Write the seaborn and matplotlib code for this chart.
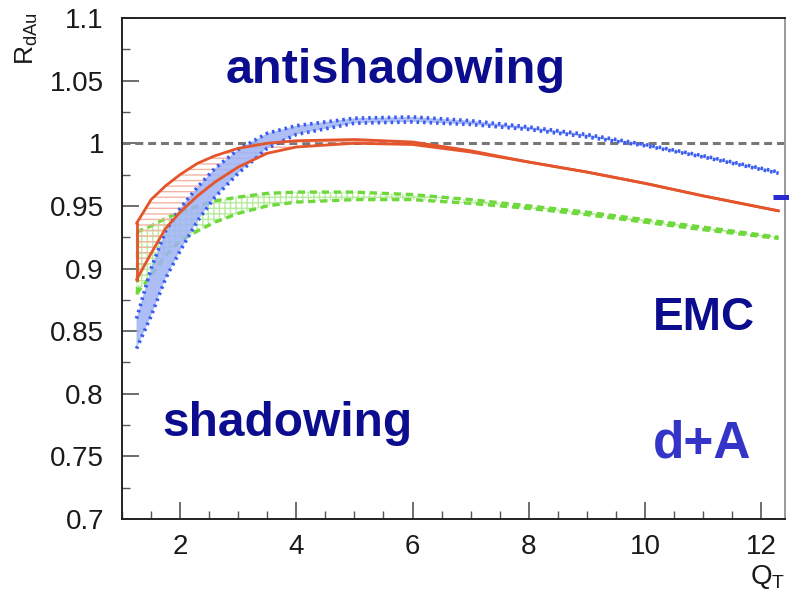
import numpy as np
import pandas as pd
import matplotlib
matplotlib.use("Agg")
import matplotlib.pyplot as plt
from matplotlib.lines import Line2D
from matplotlib.ticker import MultipleLocator
import seaborn as sns

# Q_T grid shared by the three nuclear-modification bands
q_t = [1.25, 1.5, 1.75, 2.0, 2.3, 2.6, 3.0, 3.5, 4.0, 5.0, 6.0, 7.0, 8.0, 9.0, 10.0, 11.0, 12.3]

# red band (solid edges, horizontal hatch)
red_hi = [0.936, 0.955, 0.966, 0.975, 0.984, 0.990, 0.996, 1.000, 1.002, 1.003, 1.001,
          0.994, 0.985, 0.977, 0.968, 0.958, 0.946]
red_lo = [0.891, 0.912, 0.932, 0.945, 0.958, 0.969, 0.981, 0.992, 0.997, 1.000, 0.999,
          0.993, 0.985, 0.977, 0.968, 0.958, 0.946]

# blue band (dotted edges, shaded)
blue_hi = [0.860, 0.900, 0.930, 0.948, 0.965, 0.980, 0.995, 1.008, 1.014, 1.020, 1.021,
           1.018, 1.013, 1.007, 0.999, 0.990, 0.977]
blue_lo = [0.836, 0.862, 0.892, 0.914, 0.938, 0.957, 0.976, 0.996, 1.007, 1.016, 1.017,
           1.015, 1.011, 1.005, 0.998, 0.989, 0.976]

# green band (dashed edges, light hatch)
green_hi = [0.929, 0.934, 0.940, 0.945, 0.950, 0.954, 0.957, 0.960, 0.961, 0.961, 0.959,
            0.955, 0.950, 0.945, 0.939, 0.933, 0.925]
green_lo = [0.880, 0.894, 0.910, 0.922, 0.930, 0.937, 0.944, 0.950, 0.953, 0.955, 0.955,
            0.952, 0.948, 0.943, 0.937, 0.931, 0.924]

x_ticks = [2, 4, 6, 8, 10, 12]
y_ticks = [0.7, 0.75, 0.8, 0.85, 0.9, 0.95, 1.0, 1.05, 1.1]
y_tick_labels = ["0.7", "0.75", "0.8", "0.85", "0.9", "0.95", "1", "1.05", "1.1"]

sns.set_theme(style="ticks")
plt.rcParams["font.family"] = ["Liberation Sans", "DejaVu Sans"]
plt.rcParams["mathtext.fontset"] = "custom"
plt.rcParams["mathtext.rm"] = "Liberation Sans"
plt.rcParams["mathtext.it"] = "Liberation Sans"
plt.rcParams["hatch.linewidth"] = 1.0

W, H = 789, 591
fig = plt.figure(figsize=(W / 100, H / 100), dpi=100)
ax = fig.add_axes([122 / W, 1 - 519 / H, (785 - 122) / W, (519 - 18) / H])

df = pd.DataFrame({"q": q_t, "red_hi": red_hi, "red_lo": red_lo,
                   "blue_hi": blue_hi, "blue_lo": blue_lo,
                   "green_hi": green_hi, "green_lo": green_lo})

# reference line at unity
ax.axhline(1.0, color="#777777", lw=2.2, linestyle=(0, (2.6, 1.6)), zorder=1)

# green band
ax.fill_between(df["q"], df["green_lo"], df["green_hi"], facecolor="none",
                edgecolor="#b6ec9c", hatch="+++", linewidth=0, zorder=2)
green_style = dict(color="#6fd83c", lw=2.4, linestyle=(0, (2.2, 1.4)), zorder=3)
for col in ["green_hi", "green_lo"]:
    sns.lineplot(data=df, x="q", y=col, ax=ax, estimator=None, sort=False, **green_style)
sns.lineplot(x=[q_t[0], q_t[0]], y=[green_lo[0], green_hi[0]], ax=ax,
             estimator=None, sort=False, **green_style)

# red band
ax.fill_between(df["q"], df["red_lo"], df["red_hi"], facecolor="none",
                edgecolor="#f3b4a4", hatch="---", linewidth=0, zorder=4)

# blue band
ax.fill_between(df["q"], df["blue_lo"], df["blue_hi"], facecolor="#9fb3f6",
                edgecolor="none", alpha=0.85, zorder=5)
blue_style = dict(color="#3a5cf0", lw=2.6, linestyle=(0, (0.7, 1.1)), zorder=6)
for col in ["blue_hi", "blue_lo"]:
    sns.lineplot(data=df, x="q", y=col, ax=ax, estimator=None, sort=False, **blue_style)

red_style = dict(color="#e4552c", lw=2.0, linestyle="-", zorder=7)
for col in ["red_hi", "red_lo"]:
    sns.lineplot(data=df, x="q", y=col, ax=ax, estimator=None, sort=False, **red_style)
sns.lineplot(x=[q_t[0], q_t[0]], y=[red_lo[0], red_hi[0]], ax=ax,
             estimator=None, sort=False, **red_style)

ax.set_xlim(1.0, 12.41)
ax.set_ylim(0.7, 1.1)
ax.set_xticks(x_ticks)
ax.set_xticklabels([str(v) for v in x_ticks])
ax.set_yticks(y_ticks)
ax.set_yticklabels(y_tick_labels)
ax.xaxis.set_minor_locator(MultipleLocator(0.5))
ax.yaxis.set_minor_locator(MultipleLocator(0.025))
ax.tick_params(axis="both", which="both", bottom=True, left=True, top=False, right=False)
ax.tick_params(axis="both", which="major", direction="in", length=12, width=1.2,
               color="#555555", labelsize=20, labelcolor="#1a1a1a")
ax.tick_params(axis="y", which="major", pad=13)
ax.tick_params(axis="x", which="major", pad=11)
ax.tick_params(axis="both", which="minor", direction="in", length=6, width=1.0,
               color="#555555")
ax.set_xlabel("")
ax.set_ylabel("")
for side in ["left", "bottom", "top"]:
    ax.spines[side].set_visible(True)
    ax.spines[side].set_color("#222222")
    ax.spines[side].set_linewidth(1.4)
ax.spines["right"].set_visible(True)
ax.spines["right"].set_color("#999999")
ax.spines["right"].set_linewidth(1.4)

# axis titles
fig.text(27 / W, 1 - 12 / H, r"R$_{\mathrm{dAu}}$", rotation=90, ha="center", va="top",
         fontsize=19, color="#1a1a1a")
fig.text(768 / W, 1 - 577 / H, r"Q$_{\mathrm{T}}$", ha="center", va="center",
         fontsize=20, color="#1a1a1a")

# region annotations
navy = "#0c0c8e"
fig.text(396 / W, 1 - 83 / H, "antishadowing", ha="center", va="baseline",
         fontsize=35, fontweight="bold", color=navy)
fig.text(287 / W, 1 - 436 / H, "shadowing", ha="center", va="baseline",
         fontsize=34.5, fontweight="bold", color=navy)
fig.text(704 / W, 1 - 330 / H, "EMC", ha="center", va="baseline",
         fontsize=33, fontweight="bold", color=navy)
fig.text(702 / W, 1 - 457 / H, "d+A", ha="center", va="baseline",
         fontsize=37, fontweight="bold", color="#3434c8")

# short marker at the right edge
fig.add_artist(Line2D([773 / W, 1.0], [1 - 197 / H, 1 - 197 / H],
                      transform=fig.transFigure, color="#2a2ad0", lw=3.6,
                      solid_capstyle="butt"))

fig.savefig("out.png", dpi=100)
